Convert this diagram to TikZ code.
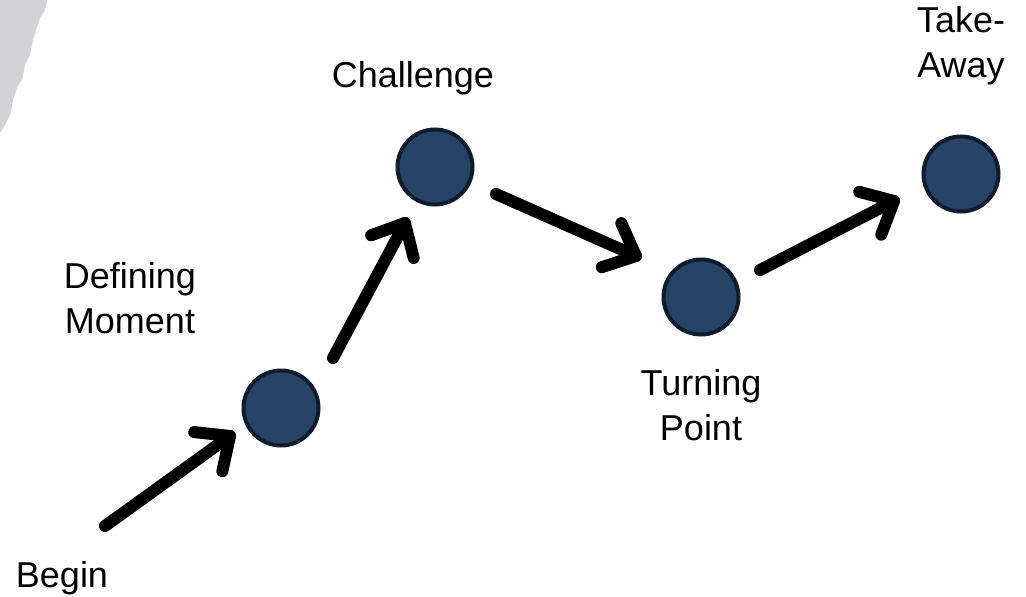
\documentclass[tikz,border=0pt]{standalone}
\usepackage{fontspec}
\setmainfont{Liberation Sans}
\usetikzlibrary{calc}
\definecolor{dotfill}{HTML}{264466}
\definecolor{dotline}{HTML}{0E1C2E}
\definecolor{paper}{HTML}{D2D2D8}
\begin{document}
\begin{tikzpicture}[x=1pt,y=-1pt,
  dot/.style={circle, minimum size=75pt, inner sep=0pt, fill=dotfill, draw=dotline, line width=4pt},
  lbl/.style={font=\fontsize{36}{45}\selectfont, align=center, anchor=base, inner sep=0pt},
  arr/.style={line width=12pt, line cap=round, line join=round}]
\useasboundingbox (0,0) rectangle (1026,597);
% paper scrap
\fill[paper] (0,0) -- (47,0) -- (45,10) -- (40,18) -- (36,30) -- (33,40) -- (30,55) -- (25,65)
  -- (22,80) -- (17,88) -- (13,100) -- (10,115) -- (5,125) -- (0,133) -- cycle;
% dots
\node[dot] (d1) at (281,408) {};
\node[dot] (d2) at (435,167) {};
\node[dot] (d3) at (701,297) {};
\node[dot] (d4) at (961,174) {};
% labels (base anchor = baseline of the last line)
\node[lbl] (lbegin) at (62,587) {Begin};
\node[lbl] (ldef) at (130,333) {Defining\\Moment};
\node[lbl] (lchal) at (413,87) {Challenge};
\node[lbl] (lturn) at (701,440) {Turning\\Point};
\node[lbl] (ltake) at (961,77) {Take-\\Away};
% arrow end points
\coordinate (s1) at (105,526); \coordinate (t1) at (230,436);
\coordinate (s2) at (333,358); \coordinate (t2) at (405,223);
\coordinate (s3) at (496,194); \coordinate (t3) at (636,256);
\coordinate (s4) at (760,270); \coordinate (t4) at (894,201);
\foreach \i in {1,...,4}{
  \draw[arr] (s\i) -- (t\i);
  \draw[arr] ($(t\i)!36pt!42:(s\i)$) -- (t\i) -- ($(t\i)!36pt!-42:(s\i)$);
}
\end{tikzpicture}
\end{document}
